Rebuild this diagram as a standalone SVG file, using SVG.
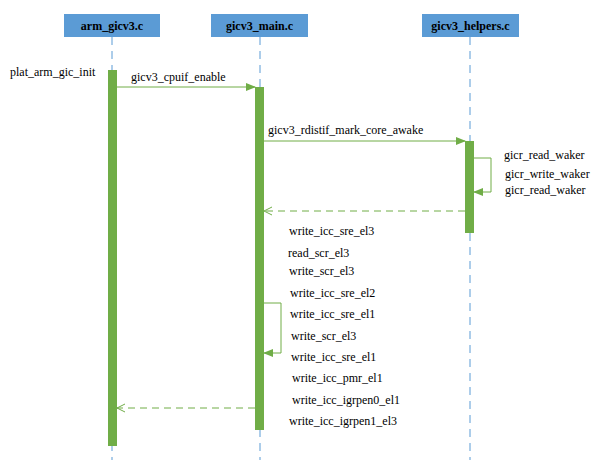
<svg xmlns="http://www.w3.org/2000/svg" width="603" height="466" viewBox="0 0 603 466">
<style>
.hdr{fill:#5B9BD5}
.ht{font-family:"Liberation Serif",serif;font-size:12px;font-weight:bold;fill:#000;text-anchor:middle}
.life{stroke:#5B9BD5;stroke-width:1;stroke-dasharray:8,6;fill:none}
.act{fill:#70AD47}
.msg{stroke:#70AD47;stroke-width:1;fill:none}
.ret{stroke:#70AD47;stroke-width:1;fill:none;stroke-dasharray:7,5}
.t{font-family:"Liberation Serif",serif;font-size:12px;fill:#000}
</style>
<defs>
<marker id="fill" markerWidth="10" markerHeight="8" refX="9" refY="4" orient="auto" markerUnits="userSpaceOnUse">
<path d="M0,0 L10,4 L0,8 Z" fill="#70AD47"/>
</marker>
<marker id="open" markerWidth="10" markerHeight="10" refX="9" refY="5" orient="auto" markerUnits="userSpaceOnUse">
<path d="M1,1 L9,5 L1,9" fill="none" stroke="#70AD47" stroke-width="1"/>
</marker>
</defs>
<rect width="603" height="466" fill="#fff"/>
<g id="arm_gicv3">
<rect class="hdr" x="64" y="14" width="96" height="23"/>
<text class="ht" x="112" y="30">arm_gicv3.c</text>
<line class="life" x1="112" y1="37" x2="112" y2="460"/>
<rect class="act" x="108" y="70" width="9" height="376"/>
</g>
<g id="gicv3_main">
<rect class="hdr" x="211" y="14" width="97" height="23"/>
<text class="ht" x="259.5" y="30">gicv3_main.c</text>
<line class="life" x1="260" y1="37" x2="260" y2="460"/>
<rect class="act" x="255" y="87" width="9" height="343"/>
</g>
<g id="gicv3_helpers">
<rect class="hdr" x="422" y="14" width="97" height="23"/>
<text class="ht" x="470.5" y="30">gicv3_helpers.c</text>
<line class="life" x1="470" y1="37" x2="470" y2="460"/>
<rect class="act" x="465" y="141" width="9" height="92"/>
</g>
<g id="connectors">
<line class="msg" x1="117" y1="87" x2="255" y2="87" marker-end="url(#fill)"/>
<line class="msg" x1="264" y1="141" x2="465" y2="141" marker-end="url(#fill)"/>
<polyline class="msg" points="474,158 491,158 491,192 474,192" marker-end="url(#fill)"/>
<line class="ret" x1="465" y1="211" x2="264" y2="211" marker-end="url(#open)"/>
<polyline class="msg" points="264,303 281,303 281,353 264,353" marker-end="url(#fill)"/>
<line class="ret" x1="255" y1="408" x2="117" y2="408" marker-end="url(#open)"/>
</g>
<g id="labels">
<text class="t" x="10" y="76">plat_arm_gic_init</text>
<text class="t" x="131" y="81">gicv3_cpuif_enable</text>
<text class="t" x="268" y="134">gicv3_rdistif_mark_core_awake</text>
<text class="t" x="504" y="159">gicr_read_waker</text>
<text class="t" x="505" y="178">gicr_write_waker</text>
<text class="t" x="505" y="194">gicr_read_waker</text>
<text class="t" x="289" y="235">write_icc_sre_el3</text>
<text class="t" x="288" y="257">read_scr_el3</text>
<text class="t" x="289" y="275">write_scr_el3</text>
<text class="t" x="290" y="297">write_icc_sre_el2</text>
<text class="t" x="290" y="318">write_icc_sre_el1</text>
<text class="t" x="291" y="340">write_scr_el3</text>
<text class="t" x="291" y="361">write_icc_sre_el1</text>
<text class="t" x="292" y="382">write_icc_pmr_el1</text>
<text class="t" x="292" y="404">write_icc_igrpen0_el1</text>
<text class="t" x="289" y="425">write_icc_igrpen1_el3</text>
</g>
</svg>
